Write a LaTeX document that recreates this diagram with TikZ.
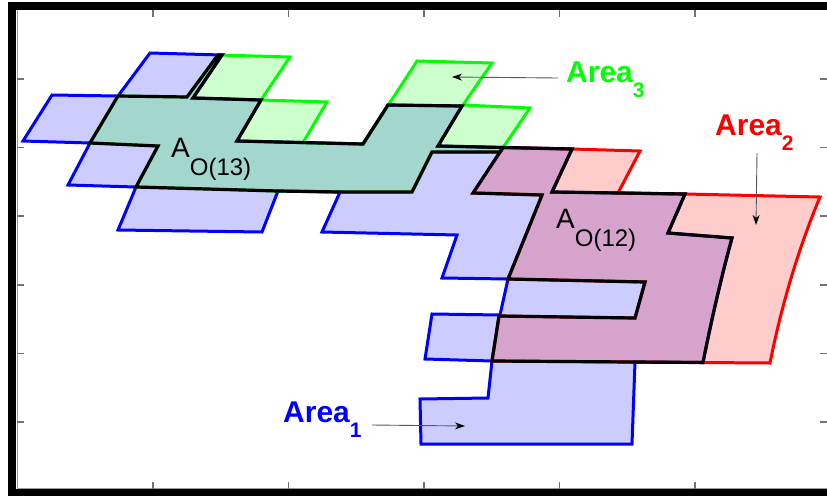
\documentclass[tikz,border=0pt]{standalone}
\usepackage{fontspec}
\setmainfont{Liberation Sans}
\usetikzlibrary{arrows.meta}

\newcommand\lblsub{\fontsize{21}{21}\selectfont}
\newcommand\ovsub{\fontsize{24}{24}\selectfont}

\begin{document}
\begin{tikzpicture}[x=1pt,y=-1pt,
  areaedge/.style={line width=3pt, line join=miter},
  area one/.style={areaedge, draw=blue, fill=blue, fill opacity=0.2},
  area two/.style={areaedge, draw=red, fill=red, fill opacity=0.2},
  area three/.style={areaedge, draw=green, fill=green, fill opacity=0.2},
  overlapedge/.style={draw=black, line width=3.2pt, line join=miter},
  axistick/.style={draw=black!55, line width=1.2pt},
  calloutarrow/.style={draw=black!65, line width=0.9pt,
    -{Stealth[length=10pt,width=7pt,inset=3pt,black]}},
  arealabel/.style={anchor=base west, inner sep=0pt,
    font=\fontsize{30}{30}\selectfont\bfseries},
  ovlabel/.style={anchor=base west, inner sep=0pt, text=black,
    font=\fontsize{28}{28}\selectfont}
]
% page and axes frame
\useasboundingbox (0,0) rectangle (827,496);
\fill[white] (0,0) rectangle (827,496);
\fill[black] (8,2) rectangle (16.3,496);
\fill[black] (8,2) rectangle (827,10);
\fill[black] (8,489) rectangle (827,496);
\draw[black!40, line width=0.8pt] (17,10) -- (17,488.3) -- (827,488.3);
\foreach \ty in {79,147.5,216,285,353.5,422} {
  \draw[axistick] (17,\ty) -- (24,\ty);
  \draw[axistick] (820,\ty) -- (827,\ty);
}
\foreach \tx in {153,288.5,424,559.5,695} {
  \draw[axistick] (\tx,10) -- (\tx,16.5);
  \draw[axistick] (\tx,482) -- (\tx,488.5);
}

% Area 1 (blue)
\draw[area one] (150,53) -- (222,55) -- (193,98) -- (261,100) -- (237,141)
  -- (363,144) -- (388,105) -- (462,106) -- (438,146) -- (503,147.5)
  -- (572,149) -- (552,192) -- (618,193) -- (685,194) -- (668,233)
  -- (732,238) .. controls (721,278) and (711,322) .. (703,362.5)
  -- (635,362) -- (632,444) -- (421,444) -- (420,399) -- (488,398)
  -- (492,361) -- (425,359) -- (432,314) -- (500,315) -- (508,279)
  -- (442,278) -- (457,235) -- (322,232) -- (340,192) -- (278,191)
  -- (262,232) -- (118,230) -- (136,187) -- (68,185) -- (90,143)
  -- (23,141) -- (52,95) -- (118,96) -- cycle;

% Area 2 (red)
\draw[area two] (503,147.5) -- (572,149) -- (640,151) -- (618,193)
  -- (685,194) -- (820,197) .. controls (797,252) and (781,308) .. (770,363)
  -- (492,361) -- (499,316) -- (635,318) -- (645,282) -- (508,279)
  -- (542,195) -- (473,193) -- cycle;

% Area 3 (green)
\draw[area three] (218,55) -- (290,57) -- (261,100) -- (327,102)
  -- (303,142.6) -- (363,144) -- (417,61) -- (492,63) -- (463,105)
  -- (530,108) -- (500,152) -- (432,152) -- (412,192) -- (340,192)
  -- (278,191) -- (136,187) -- (158,146) -- (90,143) -- (118,96)
  -- (187,97) -- cycle;

% overlap of areas 1 and 3
\draw[overlapedge] (118,96) -- (187,97) -- (218,55) -- (222,55) -- (193,98)
  -- (261,100) -- (237,141) -- (363,144) -- (388,105) -- (462,106)
  -- (438,146) -- (503,147.5) -- (500,152) -- (432,152) -- (412,192)
  -- (340,192) -- (278,191) -- (136,187) -- (158,146) -- (90,143) -- cycle;

% overlap of areas 1 and 2
\draw[overlapedge] (503,147.5) -- (572,149) -- (552,192) -- (685,194)
  -- (668,233) -- (732,238) .. controls (721,278) and (711,322) .. (703,362.5)
  -- (492,361) -- (499,316) -- (635,318) -- (645,282) -- (508,279)
  -- (542,195) -- (473,193) -- cycle;

% labels
\node[ovlabel] (ov13) at (171,157) {A\raisebox{-18.5pt}{\ovsub O(13)}};
\node[ovlabel] (ov12) at (556,228) {A\raisebox{-18pt}{\ovsub O(12)}};
\node[arealabel, text=green] (lab3) at (566,82) {Area\raisebox{-15pt}{\lblsub 3}};
\node[arealabel, text=red] (lab2) at (715,135) {Area\raisebox{-15pt}{\lblsub 2}};
\node[arealabel, text=blue] (lab1) at (283,422) {Area\raisebox{-15pt}{\lblsub 1}};

% pointers from labels into the areas
\coordinate (tail3) at (558,78);
\coordinate (tip3) at (452,77);
\coordinate (tail2) at (757,153);
\coordinate (tip2) at (756,225);
\coordinate (tail1) at (372,425);
\coordinate (tip1) at (465,426);
\draw[calloutarrow] (tail3) -- (tip3);
\draw[calloutarrow] (tail2) -- (tip2);
\draw[calloutarrow] (tail1) -- (tip1);
\end{tikzpicture}
\end{document}
